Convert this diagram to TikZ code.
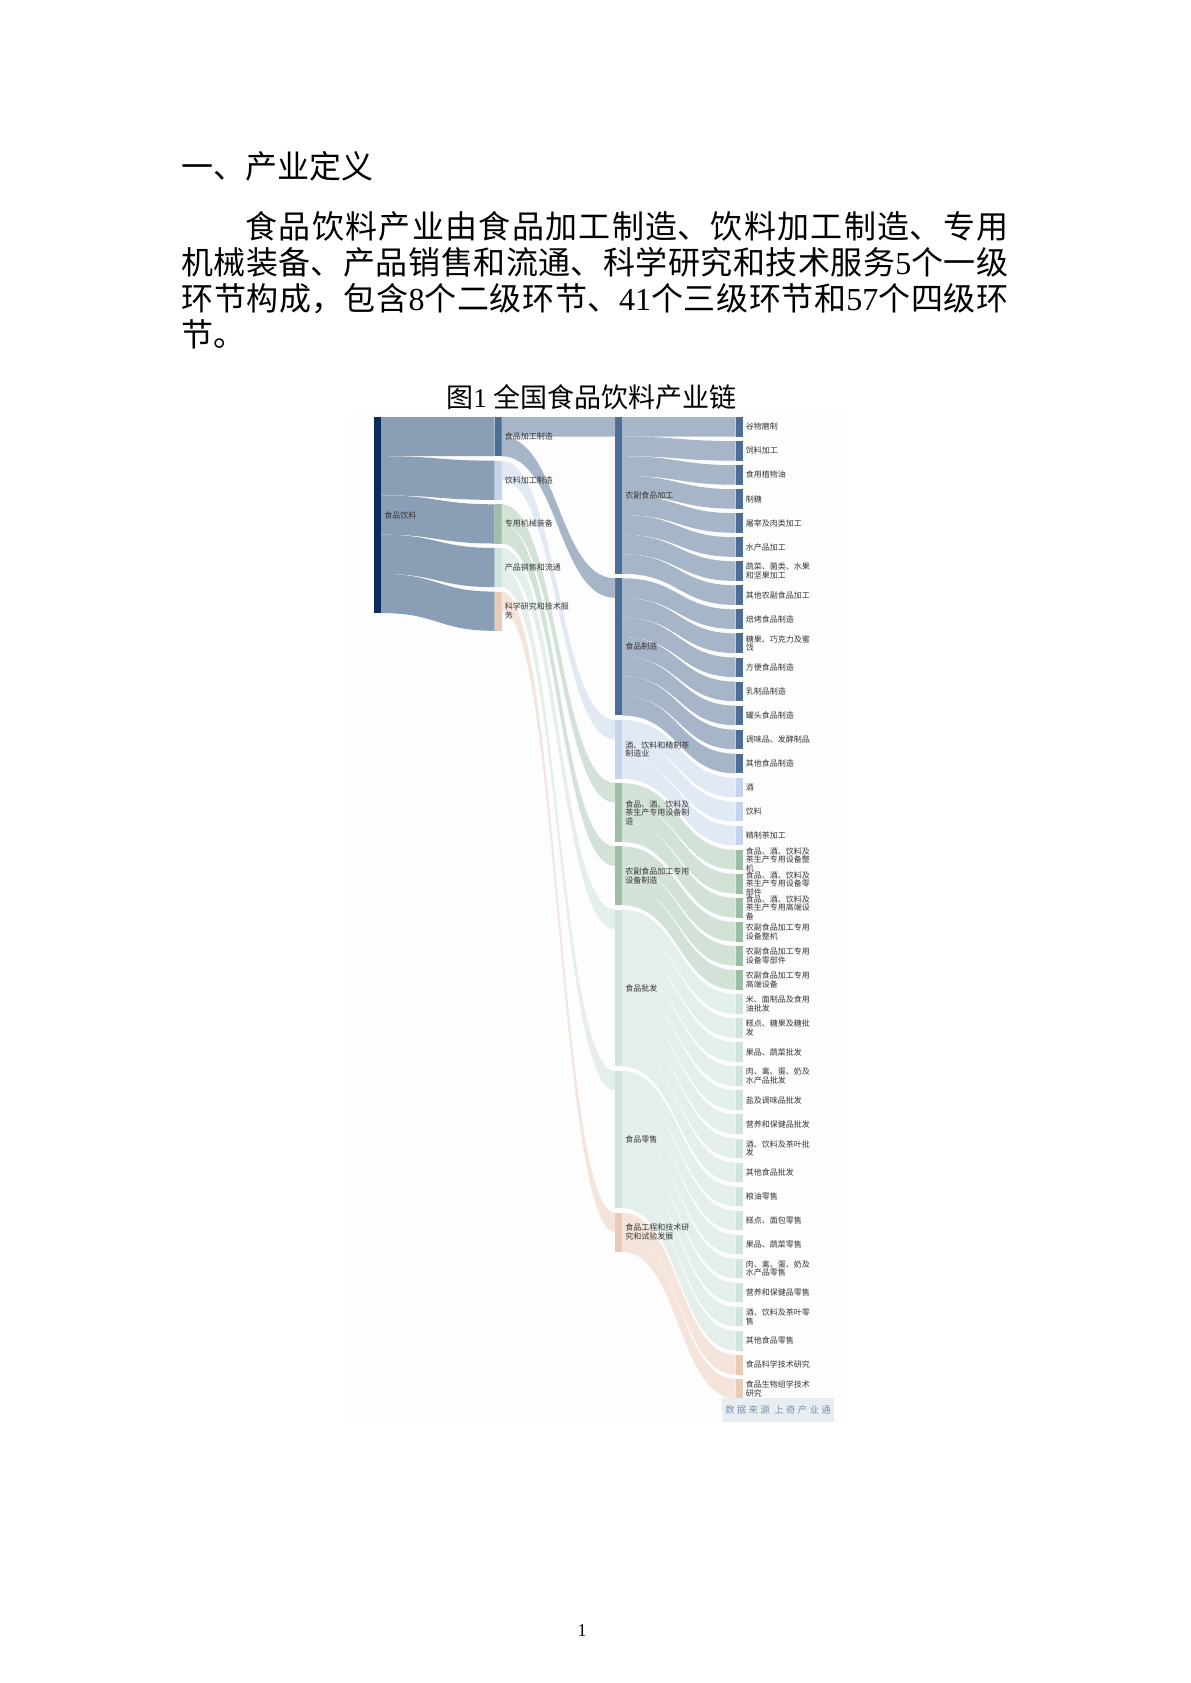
\documentclass[tikz,border=0pt]{standalone}
\usepackage{fontspec}
\setmainfont{Noto Sans CJK SC}
\newfontfamily\numfont{Liberation Serif}
\newfontfamily\srcfont[LetterSpace=25]{Noto Sans CJK SC}
\usetikzlibrary{calc}
\XeTeXlinebreaklocale "zh"
\XeTeXlinebreakskip=0pt plus 1pt
\setlength{\lineskiplimit}{-10pt}

\definecolor{rootbar}{HTML}{0B2D5D}
\definecolor{rootflow}{HTML}{8A9EB5}
\definecolor{g1bar}{HTML}{4B6E95}
\definecolor{g1flow}{HTML}{A6B6C8}
\definecolor{g2bar}{HTML}{C5D4EA}
\definecolor{g2flow}{HTML}{E1E9F5}
\definecolor{g3bar}{HTML}{9EBDA6}
\definecolor{g3flow}{HTML}{D3E2D7}
\definecolor{g4bar}{HTML}{CEE4DC}
\definecolor{g4flow}{HTML}{E4EFEB}
\definecolor{g5bar}{HTML}{E8CAB6}
\definecolor{g5flow}{HTML}{F4E4DA}
\definecolor{lblgrey}{HTML}{363636}
\definecolor{srcbg}{HTML}{E8EDF2}
\definecolor{srctext}{HTML}{7D93AC}

\tikzset{bar/.style={inner sep=0pt, outer sep=0pt, minimum width=3.5pt, anchor=north west}}
\tikzset{lbl/.style={inner sep=0pt, anchor=west, align=left, text=lblgrey,
    font=\fontsize{4}{4.3}\selectfont}}

% band from #1 (offset #2) to #3 (offset #4), width #5, colour #6
\newcommand{\flowband}[6]{%
  \fill[#6] ($(#1.north east)+(0,#2)$)
    .. controls +(56.75,0) and +(-56.75,0) .. ($(#3.north west)+(0,#4)$)
    -- ($(#3.north west)+(0,{#4+#5})$)
    .. controls +(-56.75,0) and +(56.75,0) .. ($(#1.north east)+(0,{#2+#5})$)
    -- cycle;}

\begin{document}
\begin{tikzpicture}[x=0.5pt, y=-0.5pt]
  \useasboundingbox (0,0) rectangle (1190,1683);

  \node[anchor=base west, inner sep=0pt, font=\fontsize{16}{18}\selectfont] (title) at (181,178.5) {一、产业定义};
  \node[anchor=base west, inner sep=0pt, text width=413.5pt, align=justify,
        font=\fontsize{16}{18}\selectfont] (intro) at (181,238.5)
    {\hspace*{2em}食品饮料产业由食品加工制造、饮料加工制造、专用机械装备、产品销售和流通、科学研究和技术服务{\numfont 5}个一级环节构成，包含{\numfont 8}个二级环节、{\numfont 41}个三级环节和{\numfont 57}个四级环节。};
  \node[anchor=base west, inner sep=0pt, font=\fontsize{13.5}{15}\selectfont] (caption) at (446,407)
    {图{\numfont 1 }全国食品饮料产业链};

  \fill[black!0.6] (348,414) rectangle (846,1422);

  % bars
  \node[bar, fill=rootbar, minimum height=98pt] (root) at (374,417) {};
  \foreach \nm/\g [count=\i from 0] in {jg/g1, yl/g2, zb/g3, xs/g4, ky/g5}
    \node[bar, fill=\g bar, minimum height=19.6pt] (\nm) at (494.5,{417+\i*43.65}) {};
  \foreach \nm/\y/\n/\g in {nf/417/8/g1, sz/578.25/7/g1, jy/719.9/3/g2, sb/783.15/3/g3,
                            nsb/846.4/3/g3, pf/909.65/8/g4, ls/1070.9/7/g4, gc/1212.55/2/g5}
    \node[bar, fill=\g bar, minimum height=\n*9.8pt] (\nm) at (615,\y) {};

  % bands
  \foreach \nm [count=\i from 0] in {jg, yl, zb, xs, ky}
    \flowband{root}{\i*39.2}{\nm}{0}{39.2}{rootflow};
  \foreach \s/\o/\t/\g in {jg/0/nf/g1, jg/19.6/sz/g1, yl/0/jy/g2, zb/0/sb/g3,
                           zb/19.6/nsb/g3, xs/0/pf/g4, xs/19.6/ls/g4, ky/0/gc/g5}
    \flowband{\s}{\o}{\t}{0}{19.6}{\g flow};

  \foreach \idx/\p/\m/\g/\txt in {
      0/nf/0/g1/谷物磨制, 1/nf/1/g1/饲料加工, 2/nf/2/g1/食用植物油, 3/nf/3/g1/制糖,
      4/nf/4/g1/屠宰及肉类加工, 5/nf/5/g1/水产品加工, 6/nf/6/g1/蔬菜、菌类、水果\\和坚果加工,
      7/nf/7/g1/其他农副食品加工,
      8/sz/0/g1/焙烤食品制造, 9/sz/1/g1/糖果、巧克力及蜜\\饯, 10/sz/2/g1/方便食品制造,
      11/sz/3/g1/乳制品制造, 12/sz/4/g1/罐头食品制造, 13/sz/5/g1/调味品、发酵制品,
      14/sz/6/g1/其他食品制造,
      15/jy/0/g2/酒, 16/jy/1/g2/饮料, 17/jy/2/g2/精制茶加工,
      18/sb/0/g3/食品、酒、饮料及\\茶生产专用设备整\\机,
      19/sb/1/g3/食品、酒、饮料及\\茶生产专用设备零\\部件,
      20/sb/2/g3/食品、酒、饮料及\\茶生产专用高端设\\备,
      21/nsb/0/g3/农副食品加工专用\\设备整机, 22/nsb/1/g3/农副食品加工专用\\设备零部件,
      23/nsb/2/g3/农副食品加工专用\\高端设备,
      24/pf/0/g4/米、面制品及食用\\油批发, 25/pf/1/g4/糕点、糖果及糖批\\发,
      26/pf/2/g4/果品、蔬菜批发, 27/pf/3/g4/肉、禽、蛋、奶及\\水产品批发,
      28/pf/4/g4/盐及调味品批发, 29/pf/5/g4/营养和保健品批发,
      30/pf/6/g4/酒、饮料及茶叶批\\发, 31/pf/7/g4/其他食品批发,
      32/ls/0/g4/粮油零售, 33/ls/1/g4/糕点、面包零售, 34/ls/2/g4/果品、蔬菜零售,
      35/ls/3/g4/肉、禽、蛋、奶及\\水产品零售, 36/ls/4/g4/营养和保健品零售,
      37/ls/5/g4/酒、饮料及茶叶零\\售, 38/ls/6/g4/其他食品零售,
      39/gc/0/g5/食品科学技术研究, 40/gc/1/g5/食品生物组学技术\\研究}{
    \node[bar, fill=\g bar, minimum height=9.8pt] (lf\idx) at (735.5,{417+\idx*24.05}) {};
    \flowband{\p}{\m*19.6}{lf\idx}{0}{19.6}{\g flow};
    \node[lbl] (lf\idx-t) at ([xshift=1.5pt]lf\idx.east) {\txt};
  }

  % labels on top of the bands
  \node[lbl] (root-t) at ([xshift=1.5pt]root.east) {食品饮料};
  \foreach \nm/\txt in {jg/食品加工制造, yl/饮料加工制造, zb/专用机械装备, xs/产品销售和流通,
                        ky/科学研究和技术服\\务, nf/农副食品加工, sz/食品制造,
                        jy/酒、饮料和精制茶\\制造业, sb/食品、酒、饮料及\\茶生产专用设备制\\造,
                        nsb/农副食品加工专用\\设备制造, pf/食品批发, ls/食品零售,
                        gc/食品工程和技术研\\究和试验发展}
    \node[lbl] (\nm-t) at ([xshift=1.5pt]\nm.east) {\txt};

  \node[fill=srcbg, minimum width=56pt, minimum height=12pt, inner sep=0pt, text=srctext,
        font=\srcfont\fontsize{4.7}{5}\selectfont] (src) at (778,1410) {数据来源 上奇产业通};

  \node[anchor=base, inner sep=0pt, font=\numfont\fontsize{9}{10}\selectfont] (pageno) at (582,1636) {1};
\end{tikzpicture}
\end{document}
